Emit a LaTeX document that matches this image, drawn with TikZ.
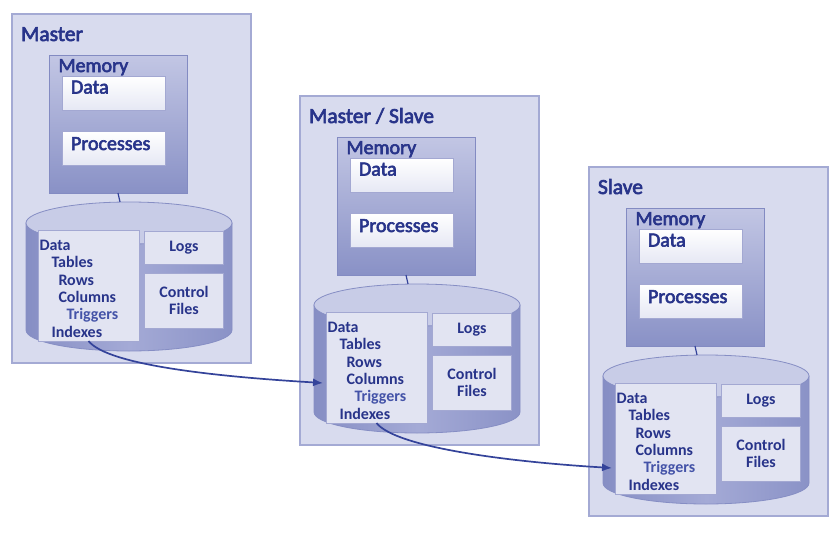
\documentclass[tikz,border=0pt]{standalone}
\usepackage{fontspec}
\setmainfont{Carlito}
\newfontfamily\medfam{Carlito}[FakeBold=3]
\usetikzlibrary{arrows.meta}
\definecolor{txt}{HTML}{28348A}
\definecolor{trig}{HTML}{4453A8}
\definecolor{panelfill}{HTML}{D8DBEE}
\definecolor{paneldraw}{HTML}{A4AAD4}
\definecolor{memtop}{HTML}{C2C6E4}
\definecolor{membot}{HTML}{8991C6}
\definecolor{memdraw}{HTML}{838BC2}
\definecolor{boxbot}{HTML}{E6E8F4}
\definecolor{boxdraw}{HTML}{A3A8D2}
\definecolor{listfill}{HTML}{E2E4F2}
\definecolor{cyledge}{HTML}{868EC4}
\definecolor{cylmid}{HTML}{A4AAD6}
\definecolor{cyltopfill}{HTML}{C8CCE7}
\definecolor{linecol}{HTML}{34439A}
\newcommand\titlefont{\medfam\fontsize{21.5}{25}\selectfont}
\newcommand\memfont{\medfam\fontsize{20}{23}\selectfont}
\newcommand\smallfont{\fontsize{16}{18}\selectfont\bfseries}
\tikzset{
  box/.style={rectangle, anchor=north west, inner sep=0pt, outer sep=0pt},
  panelbox/.style={box, fill=panelfill, draw=paneldraw, line width=1.2pt},
  membox/.style={box, top color=memtop, bottom color=membot, draw=memdraw, line width=0.8pt},
  whitebox/.style={box, top color=white, bottom color=boxbot, draw=boxdraw, line width=0.8pt},
  listbox/.style={box, fill=listfill, draw=boxdraw, line width=0.8pt},
  smallbox/.style={box, fill=listfill, draw=boxdraw, line width=0.8pt, text=txt, font=\smallfont, align=center},
  lbl/.style={anchor=base west, inner sep=0pt, outer sep=0pt, text=txt},
  small/.style={lbl, font=\smallfont},
  cylbody/.style={left color=cyledge, right color=cyledge!85!cylmid, middle color=cylmid, draw=cyledge, line width=0.8pt},
  cyltop/.style={fill=cyltopfill, draw=cyledge, line width=0.8pt},
  link/.style={draw=linecol, line width=1.2pt},
  flow/.style={draw=linecol, line width=1.7pt, -{Latex[length=10pt,width=8pt]}}
}
\newcommand{\dbpanel}[4]{%
\begin{scope}[shift={(#2,#3)}]
\node[panelbox, minimum width=239pt, minimum height=349pt] (#1-panel) at (0,0) {};
\node[lbl, font=\titlefont] (#1-title) at (9,27) {#4};
\node[membox, minimum width=138pt, minimum height=138pt] (#1-mem) at (37,41) {};
\node[lbl, font=\memfont] (#1-memlbl) at (46.5,58) {Memory};
\node[whitebox, minimum width=103pt, minimum height=34pt] (#1-data) at (50,62) {};
\node[lbl, font=\memfont] (#1-datalbl) at (59,79.5) {Data};
\node[whitebox, minimum width=103pt, minimum height=34pt] (#1-proc) at (50,117) {};
\node[lbl, font=\memfont] (#1-proclbl) at (59,136) {Processes};
\path[cylbody] (14,209) -- (14,316) arc[start angle=180,end angle=0,x radius=103,y radius=21] -- (220,209) -- cycle;
\path[cyltop] (117,209) ellipse[x radius=103, y radius=21];
\coordinate (#1-cyltop) at (108,188);
\draw[link] (#1-mem.south) -- (#1-cyltop);
\node[listbox, minimum width=101pt, minimum height=111pt] (#1-list) at (26,216) {};
\node[small] (#1-l1) at (27.5,236) {Data};
\node[small] (#1-l2) at (39.5,253.5) {Tables};
\node[small] (#1-l3) at (46.5,271) {Rows};
\node[small] (#1-l4) at (46.5,288) {Columns};
\node[small, text=trig] (#1-l5) at (54.5,305.5) {Triggers};
\node[small] (#1-l6) at (39.5,323) {Indexes};
\node[smallbox, minimum width=79pt, minimum height=33pt] (#1-logs) at (132.5,217) {Logs};
\node[smallbox, minimum width=79pt, minimum height=55pt] (#1-ctrl) at (132.5,259) {Control\\[-1pt]Files};
\end{scope}}
\begin{document}
\begin{tikzpicture}[x=1pt,y=-1pt]
\path[use as bounding box, fill=white] (0,0) rectangle (838,541);
\dbpanel{m}{12}{14}{Master}
\dbpanel{ms}{300}{96}{Master / Slave}
\dbpanel{sl}{589}{167}{Slave}
\draw[flow] (m-list.south) .. controls +(20,25) and +(-100,-6) .. ([xshift=-3pt,yshift=-15.5pt]ms-list.west);
\draw[flow] (ms-list.south) .. controls +(20,25) and +(-100,-6) .. ([xshift=-3pt,yshift=-29.5pt]sl-list.west);
\end{tikzpicture}
\end{document}
